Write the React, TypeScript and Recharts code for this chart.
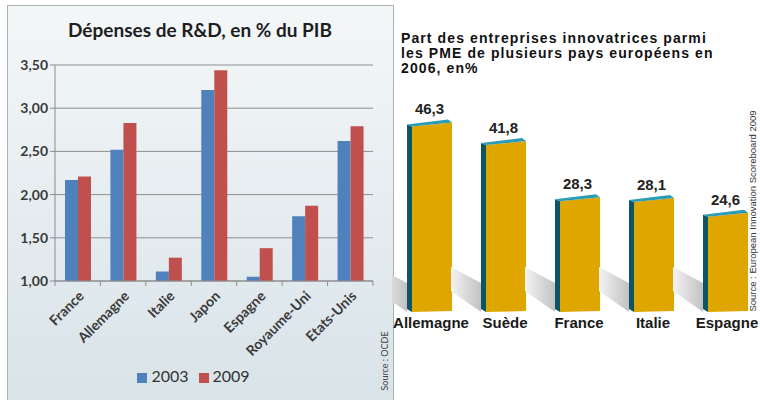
import React from 'react';
import {
  BarChart,
  Bar,
  XAxis,
  YAxis,
  CartesianGrid,
  Legend,
  LabelList
} from 'recharts';

// Dépenses de R&D, en % du PIB
const rdCountries = ['France', 'Allemagne', 'Italie', 'Japon', 'Espagne', 'Royaume-Uni', 'Etats-Unis'];
const rd2003 = [2.17, 2.52, 1.11, 3.21, 1.05, 1.75, 2.62];
const rd2009 = [2.21, 2.83, 1.27, 3.44, 1.38, 1.87, 2.79];
const rdTicks = [1, 1.5, 2, 2.5, 3, 3.5];

// Part des entreprises innovatrices parmi les PME, 2006
const pmeCountries = ['Allemagne', 'Suède', 'France', 'Italie', 'Espagne'];
const pmeValues = [46.3, 41.8, 28.3, 28.1, 24.6];

const rdData = rdCountries.map((name, i) => ({ name, y2003: rd2003[i], y2009: rd2009[i] }));
const pmeData = pmeCountries.map((name, i) => ({ name, value: pmeValues[i] }));

const calibri = 'Lato, "Open Sans", sans-serif';
const arial = '"Liberation Sans", Arial, sans-serif';

const comma = (v: number, d: number) => v.toFixed(d).replace('.', ',');

const RdTick = (props: any) => {
  const { x, y, payload, index, visibleTicksCount, width } = props;
  const off = payload?.offset ?? width / visibleTicksCount / 2;
  return (
    <g>
      <line x1={x - off} x2={x - off} y1={y} y2={y + 5} stroke="#8c8c8c" />
      {index === visibleTicksCount - 1 && (
        <line x1={x + off} x2={x + off} y1={y} y2={y + 5} stroke="#8c8c8c" />
      )}
      <text
        transform={`translate(${x + 7},${y + 16}) rotate(-45)`}
        textAnchor="end"
        fontFamily={calibri}
        fontWeight={700}
        fontSize={14}
        fill="#3a3a3a"
      >
        {payload.value}
      </text>
    </g>
  );
};

// faux 3D bar: dark side on the left, teal top, gold front, grey shadow
const Bar3D = (props: any) => {
  const { x, y, width, height } = props;
  const b = y + height;
  const s = 5;
  return (
    <g>
      <polygon
        points={`${x},${b} ${x},${b - 29} ${x - 30},${b - 45} ${x - 30},${b - 21}`}
        fill="url(#pmeShadow)"
      />
      <polygon points={`${x},${y + 5} ${x + s},${y + 7} ${x + s},${b} ${x},${b - 3}`} fill="#0d5566" />
      <polygon points={`${x + s},${y + 7} ${x + width},${y + 3} ${x + width},${b - 1} ${x + s},${b}`} fill="#e0a600" />
      <polygon points={`${x},${y + 5} ${x + width - 4},${y} ${x + width},${y + 3} ${x + s},${y + 7}`} fill="#2b9cb3" />
    </g>
  );
};

const PmeTick = (props: any) => {
  const { x, y, payload } = props;
  return (
    <text x={x + 2} y={y + 16} textAnchor="middle" fontFamily={arial} fontWeight={700} fontSize={15} fill="#1a1a1a">
      {payload.value}
    </text>
  );
};

export default function App() {
  return (
    <div style={{ position: 'fixed', left: 0, top: 0, width: 760, height: 400, background: '#fff', overflow: 'hidden' }}>
      <div
        style={{
          position: 'absolute',
          left: 7,
          top: 5,
          width: 385,
          height: 400,
          border: '1px solid #a9b1b5',
          background: 'linear-gradient(#f4f7f8, #d8e3e8)'
        }}
      />
      <div
        style={{
          position: 'absolute',
          left: 7,
          width: 386,
          top: 18,
          textAlign: 'center',
          fontFamily: calibri,
          fontWeight: 700,
          fontSize: 19,
          color: '#1e1e1e'
        }}
      >
        Dépenses de R&amp;D, en % du PIB
      </div>
      <div style={{ position: 'absolute', left: 0, top: 0 }}>
        <BarChart
          width={393}
          height={400}
          data={rdData}
          margin={{ top: 65, right: 20, left: 0, bottom: 15 }}
          barCategoryGap="22%"
          barGap={0}
        >
          <CartesianGrid vertical={false} stroke="#8f8f8f" />
          <XAxis
            dataKey="name"
            interval={0}
            height={85}
            tickSize={0}
            tickMargin={0}
            tickLine={false}
            axisLine={{ stroke: '#8c8c8c' }}
            tick={<RdTick />}
          />
          <YAxis
            domain={[1, 3.5]}
            ticks={rdTicks}
            width={55}
            tickSize={5}
            axisLine={{ stroke: '#8c8c8c' }}
            tickLine={{ stroke: '#8c8c8c' }}
            tickFormatter={(v: number) => comma(v, 2)}
            tick={{ fontFamily: calibri, fontWeight: 700, fontSize: 14, fill: '#3a3a3a' }}
          />
          <Legend
            verticalAlign="bottom"
            iconType="square"
            iconSize={10}
            wrapperStyle={{ fontFamily: calibri, fontSize: 16, paddingLeft: 12 }}
            formatter={(value: string) => <span style={{ color: '#333' }}>{value}</span>}
          />
          <Bar dataKey="y2003" name="2003" fill="#4f81bd" isAnimationActive={false} />
          <Bar dataKey="y2009" name="2009" fill="#c0504d" isAnimationActive={false} />
        </BarChart>
      </div>
      <div
        style={{
          position: 'absolute',
          left: 384,
          top: 361,
          transform: 'translate(-50%, -50%) rotate(-90deg)',
          whiteSpace: 'nowrap',
          fontFamily: calibri,
          fontSize: 9,
          color: '#444'
        }}
      >
        Source : OCDE
      </div>

      <div
        style={{
          position: 'absolute',
          left: 401,
          top: 31,
          fontFamily: arial,
          fontWeight: 700,
          fontSize: 14,
          lineHeight: '15px',
          letterSpacing: 1.1,
          color: '#111'
        }}
      >
        Part des entreprises innovatrices parmi
        <br />
        les PME de plusieurs pays européens en
        <br />
        2006, en%
      </div>
      <div style={{ position: 'absolute', left: 392, top: 0 }}>
        <BarChart width={370} height={400} data={pmeData} margin={{ top: 104, right: 0, left: 0, bottom: 58 }} barSize={45}>
          <defs>
            <linearGradient id="pmeShadow" x1="1" y1="0" x2="0" y2="0">
              <stop offset="0%" stopColor="#c2c2c2" />
              <stop offset="100%" stopColor="#f3f3f3" />
            </linearGradient>
          </defs>
          <XAxis dataKey="name" interval={0} height={30} tickSize={0} tickMargin={0} axisLine={false} tickLine={false} tick={<PmeTick />} />
          <YAxis hide domain={[0, 50]} />
          <Bar dataKey="value" shape={<Bar3D />} isAnimationActive={false}>
            <LabelList
              dataKey="value"
              position="top"
              offset={5}
              formatter={(v: number) => comma(v, 1)}
              style={{ fontFamily: arial, fontWeight: 700, fontSize: 15, fill: '#222' }}
            />
          </Bar>
        </BarChart>
      </div>
      <div
        style={{
          position: 'absolute',
          left: 752,
          top: 211,
          transform: 'translate(-50%, -50%) rotate(-90deg)',
          whiteSpace: 'nowrap',
          fontFamily: '"Liberation Sans Narrow", "Liberation Sans", sans-serif',
          fontSize: 9.5,
          color: '#333'
        }}
      >
        Source : European Innovation Scoreboard 2009
      </div>
    </div>
  );
}
